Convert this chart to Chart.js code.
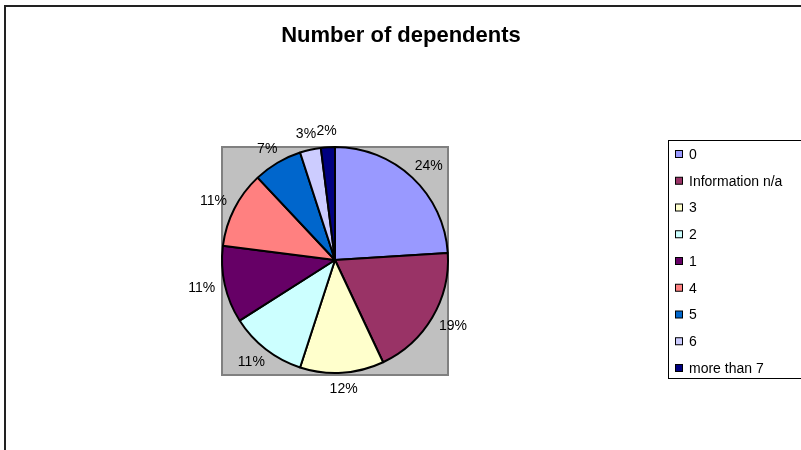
<!DOCTYPE html>
<html>
<head>
<meta charset="utf-8">
<script src="https://cdn.jsdelivr.net/npm/chart.js@4"></script>
<style>
  html, body { margin: 0; padding: 0; background: #fff; }
  #wrap { width: 801px; height: 450px; }
</style>
</head>
<body>
<div id="wrap"><canvas id="chart" width="801" height="450"></canvas></div>
<script>
const categories = ["0", "Information n/a", "3", "2", "1", "4", "5", "6", "more than 7"];
const shares = [24, 19, 12, 11, 11, 11, 7, 3, 2];
const sliceColors = ["#9999FF", "#993366", "#FFFFCC", "#CCFFFF", "#660066", "#FF8080", "#0066CC", "#CCCCFF", "#000080"];
const chartTitle = "Number of dependents";

window.addEventListener("DOMContentLoaded", () => {
  const font = "'Liberation Sans', Arial, sans-serif";

  // 外枠・グレーの背景・タイトル・凡例を描く
  const excelLook = {
    id: "excelLook",
    beforeDraw(chart) {
      const { ctx, chartArea } = chart;
      ctx.save();
      ctx.strokeStyle = "#222";
      ctx.lineWidth = 2;
      ctx.beginPath();
      ctx.moveTo(5, 460);
      ctx.lineTo(5, 6);
      ctx.lineTo(810, 6);
      ctx.stroke();

      ctx.fillStyle = "#C0C0C0";
      ctx.fillRect(chartArea.left, chartArea.top, chartArea.width, chartArea.height + 2);
      ctx.strokeStyle = "#808080";
      ctx.strokeRect(chartArea.left, chartArea.top, chartArea.width, chartArea.height + 2);

      ctx.fillStyle = "#000";
      ctx.font = `bold 22px ${font}`;
      ctx.textAlign = "center";
      ctx.textBaseline = "middle";
      ctx.fillText(chartTitle, 401, 36);

      // 凡例
      ctx.strokeStyle = "#000";
      ctx.lineWidth = 1;
      ctx.strokeRect(668.5, 140.5, 200, 238);
      ctx.font = `14px ${font}`;
      ctx.textAlign = "left";
      const colors = chart.data.datasets[0].backgroundColor;
      chart.data.labels.forEach((label, i) => {
        const y = 154 + i * 26.75;
        ctx.fillStyle = colors[i];
        ctx.fillRect(675.5, y - 3.5, 7, 7);
        ctx.strokeRect(675.5, y - 3.5, 7, 7);
        ctx.fillStyle = "#000";
        ctx.fillText(label, 689, y + 1);
      });
      ctx.restore();
    },
    afterDatasetsDraw(chart) {
      const { ctx } = chart;
      const meta = chart.getDatasetMeta(0);
      const values = chart.data.datasets[0].data;
      ctx.save();
      ctx.font = `14px ${font}`;
      ctx.fillStyle = "#000";
      ctx.textAlign = "center";
      ctx.textBaseline = "middle";
      meta.data.forEach((arc, i) => {
        const { x, y, startAngle, endAngle, outerRadius } = arc.getProps(["x", "y", "startAngle", "endAngle", "outerRadius"], true);
        const mid = (startAngle + endAngle) / 2;
        const text = `${values[i]}%`;
        const w = ctx.measureText(text).width;
        const h = 10;
        const ax = x + (outerRadius + 10) * Math.cos(mid);
        const ay = y + (outerRadius + 10) * Math.sin(mid);
        ctx.fillText(text, ax + (w / 2) * Math.cos(mid), ay + (h / 2 + 1) * Math.sin(mid));
      });
      ctx.restore();
    },
  };

  new Chart(document.getElementById("chart"), {
    type: "pie",
    data: {
      labels: categories,
      datasets: [
        {
          data: shares,
          backgroundColor: sliceColors,
          borderColor: "#000",
          borderWidth: 2,
        },
      ],
    },
    options: {
      responsive: false,
      animation: false,
      radius: 113,
      layout: {
        padding: { left: 222, top: 147, right: 353, bottom: 77 },
      },
      plugins: {
        legend: { display: false },
        title: { display: false },
        tooltip: { enabled: false },
      },
    },
    plugins: [excelLook],
  });
});
</script>
</body>
</html>
